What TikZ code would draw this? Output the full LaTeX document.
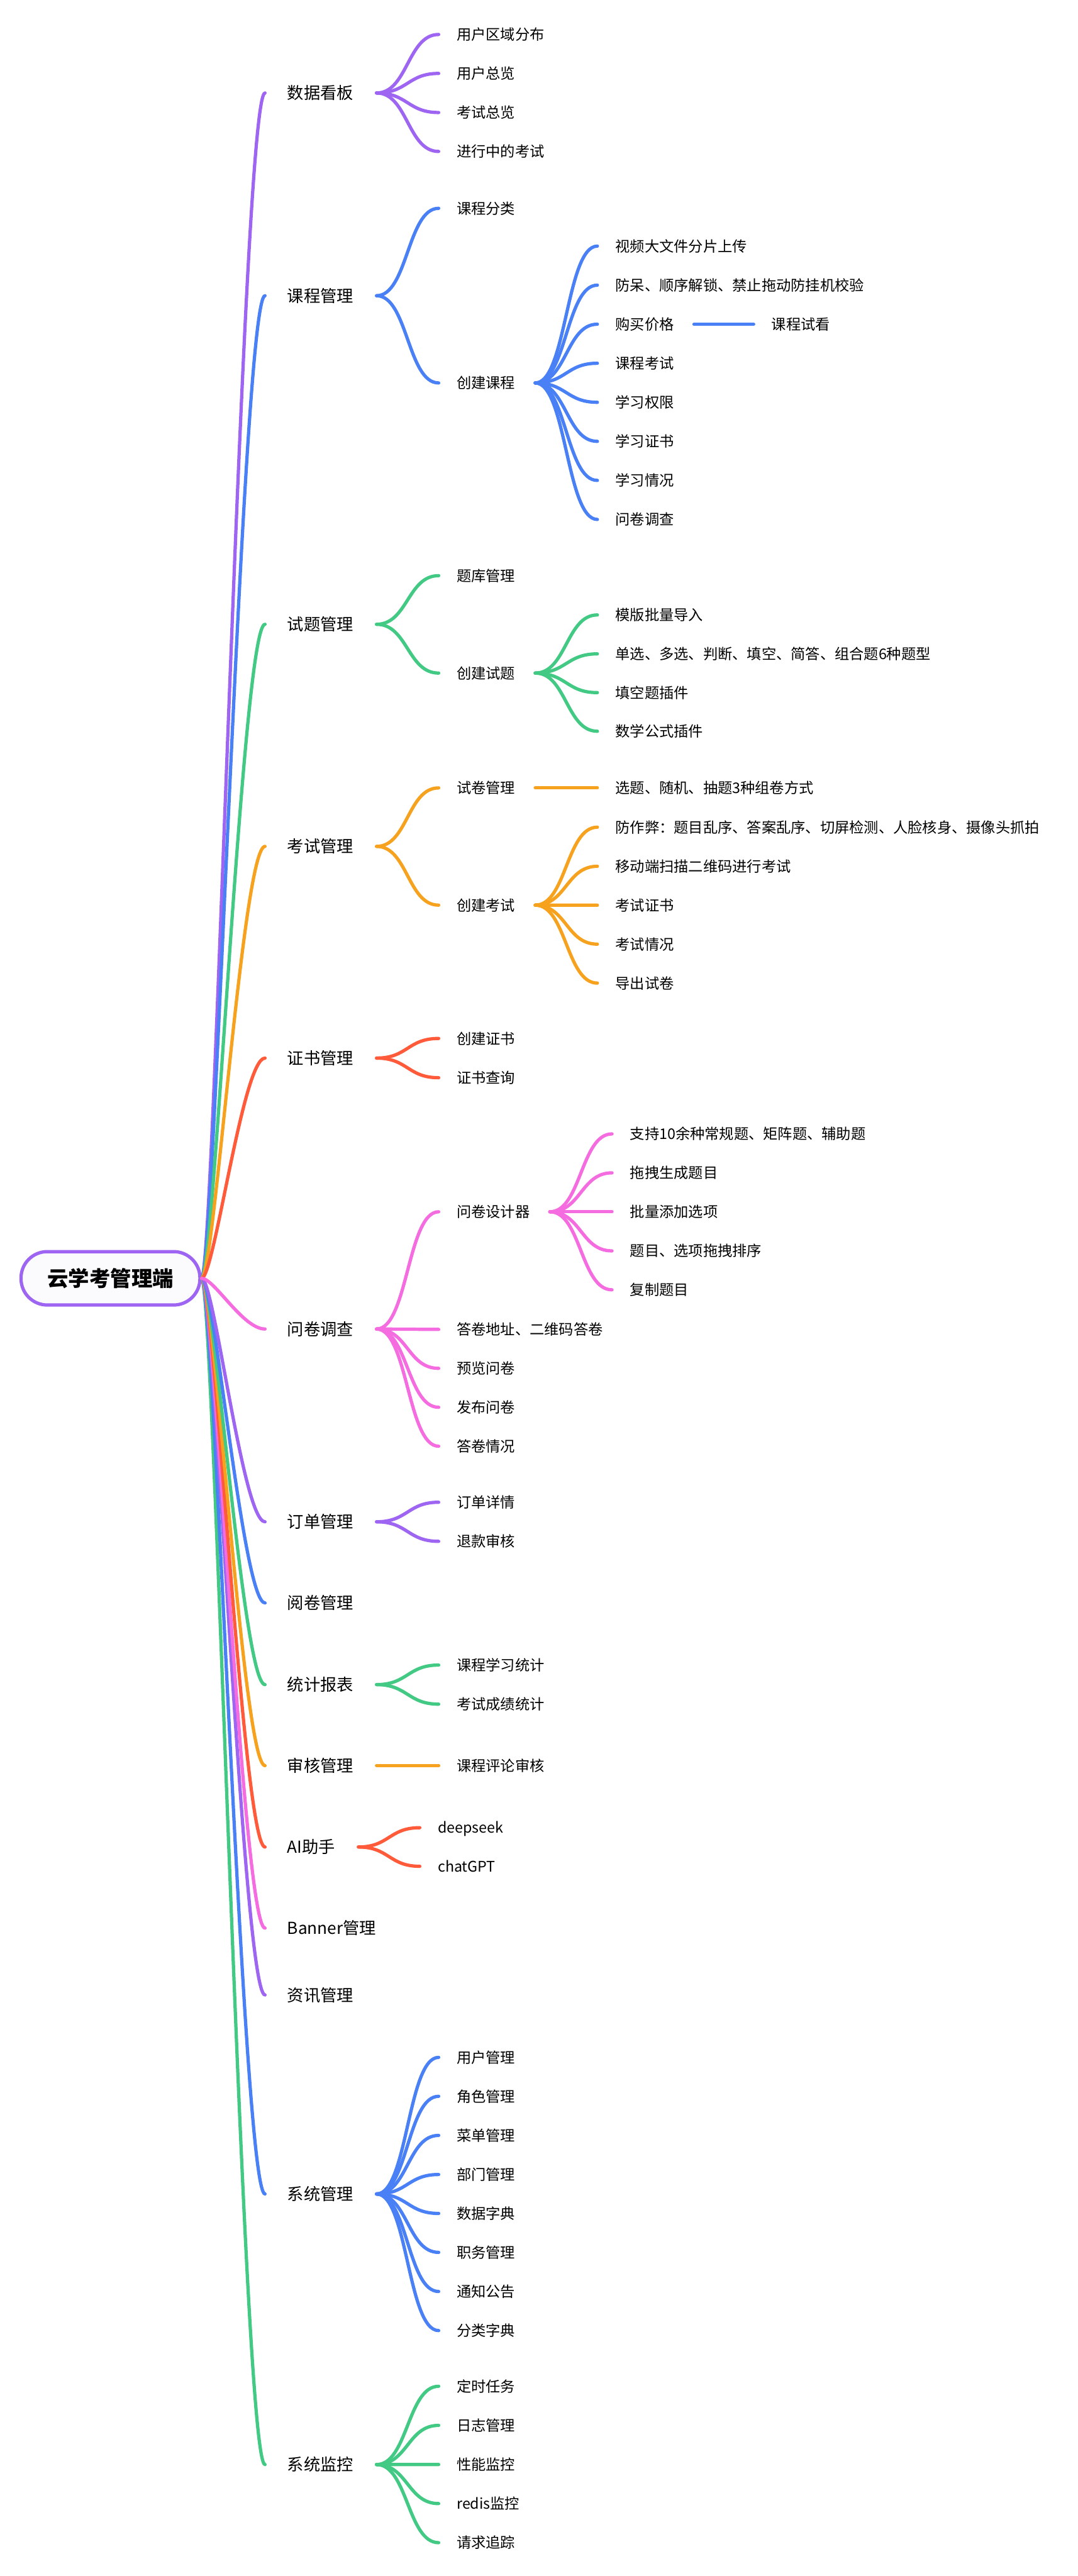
\documentclass[tikz,border=0pt]{standalone}
\usepackage{fontspec}
\setmainfont{Noto Sans CJK SC}
\usetikzlibrary{calc}
\definecolor{cPu}{HTML}{9D65F2}
\definecolor{cBl}{HTML}{4A80F5}
\definecolor{cGr}{HTML}{42C983}
\definecolor{cOr}{HTML}{F7A21E}
\definecolor{cRe}{HTML}{FF5A3A}
\definecolor{cPi}{HTML}{F56BE0}
\definecolor{rootfill}{HTML}{FBFBFD}
\tikzset{
  base/.style={anchor=west, inner sep=0pt, text=black},
  lvA/.style={base, font=\fontsize{10.05}{12}\selectfont, text height=8.85pt, text depth=1.2pt},
  lvB/.style={base, font=\fontsize{8.9}{11}\selectfont, text height=7.83pt, text depth=1.07pt},
  rootbox/.style={draw=cPu, line width=2pt, fill=rootfill, rounded corners=16pt,
    minimum width=108.9pt, minimum height=32.5pt, inner sep=0pt,
    font=\fontsize{12.8}{15}\selectfont\bfseries, text height=11.26pt, text depth=1.54pt},
  link/.style={line width=2pt, line cap=round},
}
% level-1 link from root
\newcommand\rootlink[2]{%
  \draw[link,#1] let \p1=(root.east), \p2=([xshift=-13.4pt]#2.west) in
    (\p1) .. controls ({\x1+0.2*(\x2-\x1)},\y1) and ({\x1+0.65*(\x2-\x1)},\y2) .. (\p2);}
% deeper link: color, parent, child, start gap
\newcommand\sublink[4]{%
  \draw[link,#1] let \p1=([xshift=#4]#2.east), \p2=([xshift=-10.8pt]#3.west) in
    (\p1) .. controls ({0.5*(\x1+\x2)},\y1) and ({0.5*(\x1+\x2)},\y2) .. (\p2);}
\begin{document}
\begin{tikzpicture}[x=1pt,y=-1pt]
\fill[white] (0,0) rectangle (655.8,1568);
\useasboundingbox (0,0) rectangle (655.8,1568);

% root
\node[rootbox] (root) at (67.25,778.1) {云学考管理端};

% level 1
\node[lvA] (n1) at (174.7,56.6) {数据看板};
\node[lvA] (n2) at (174.7,180.0) {课程管理};
\node[lvA] (n3) at (174.7,380.0) {试题管理};
\node[lvA] (n4) at (174.7,515.2) {考试管理};
\node[lvA] (n5) at (174.7,644.05) {证书管理};
\node[lvA] (n6) at (174.7,808.95) {问卷调查};
\node[lvA] (n7) at (174.7,926.3) {订单管理};
\node[lvA] (n8) at (174.7,975.7) {阅卷管理};
\node[lvA] (n9) at (174.7,1025.4) {统计报表};
\node[lvA] (n10) at (174.7,1074.7) {审核管理};
\node[lvA] (n11) at (174.7,1124.25) {AI助手};
\node[lvA] (n12) at (174.7,1173.6) {Banner管理};
\node[lvA] (n13) at (174.7,1214.3) {资讯管理};
\node[lvA] (n14) at (174.7,1335.45) {系统管理};
\node[lvA] (n15) at (174.7,1500.15) {系统监控};

% level 2
\node[lvB] (n1a) at (277.8,21.0) {用户区域分布};
\node[lvB] (n1b) at (277.8,44.7) {用户总览};
\node[lvB] (n1c) at (277.8,68.5) {考试总览};
\node[lvB] (n1d) at (277.8,92.2) {进行中的考试};

\node[lvB] (n2a) at (277.8,126.8) {课程分类};
\node[lvB] (n2b) at (277.8,233.1) {创建课程};
\node[lvB] (n2b1) at (374.4,149.8) {视频大文件分片上传};
\node[lvB] (n2b2) at (374.4,173.57) {防呆、顺序解锁、禁止拖动防挂机校验};
\node[lvB] (n2b3) at (374.4,197.34) {购买价格};
\node[lvB] (n2b3a) at (469.5,197.34) {课程试看};
\node[lvB] (n2b4) at (374.4,221.11) {课程考试};
\node[lvB] (n2b5) at (374.4,244.88) {学习权限};
\node[lvB] (n2b6) at (374.4,268.65) {学习证书};
\node[lvB] (n2b7) at (374.4,292.42) {学习情况};
\node[lvB] (n2b8) at (374.4,316.19) {问卷调查};

\node[lvB] (n3a) at (277.8,350.4) {题库管理};
\node[lvB] (n3b) at (277.8,409.7) {创建试题};
\node[lvB] (n3b1) at (374.4,374.3) {模版批量导入};
\node[lvB] (n3b2) at (374.4,398.0) {单选、多选、判断、填空、简答、组合题6种题型};
\node[lvB] (n3b3) at (374.4,421.6) {填空题插件};
\node[lvB] (n3b4) at (374.4,445.1) {数学公式插件};

\node[lvB] (n4a) at (277.8,479.6) {试卷管理};
\node[lvB] (n4a1) at (374.4,479.6) {选题、随机、抽题3种组卷方式};
\node[lvB] (n4b) at (277.8,550.95) {创建考试};
\node[lvB] (n4b1) at (374.4,503.5) {防作弊：题目乱序、答案乱序、切屏检测、人脸核身、摄像头抓拍};
\node[lvB] (n4b2) at (374.4,527.3) {移动端扫描二维码进行考试};
\node[lvB] (n4b3) at (374.4,551.0) {考试证书};
\node[lvB] (n4b4) at (374.4,574.7) {考试情况};
\node[lvB] (n4b5) at (374.4,598.4) {导出试卷};

\node[lvB] (n5a) at (277.8,632.1) {创建证书};
\node[lvB] (n5b) at (277.8,656.0) {证书查询};

\node[lvB] (n6a) at (277.8,737.6) {问卷设计器};
\node[lvB] (n6a1) at (383.3,690.2) {支持10余种常规题、矩阵题、辅助题};
\node[lvB] (n6a2) at (383.3,713.9) {拖拽生成题目};
\node[lvB] (n6a3) at (383.3,737.6) {批量添加选项};
\node[lvB] (n6a4) at (383.3,761.4) {题目、选项拖拽排序};
\node[lvB] (n6a5) at (383.3,785.1) {复制题目};
\node[lvB] (n6b) at (277.8,809.2) {答卷地址、二维码答卷};
\node[lvB] (n6c) at (277.8,832.9) {预览问卷};
\node[lvB] (n6d) at (277.8,856.6) {发布问卷};
\node[lvB] (n6e) at (277.8,880.3) {答卷情况};

\node[lvB] (n7a) at (277.8,914.4) {订单详情};
\node[lvB] (n7b) at (277.8,938.2) {退款审核};

\node[lvB] (n9a) at (277.8,1013.5) {课程学习统计};
\node[lvB] (n9b) at (277.8,1037.3) {考试成绩统计};

\node[lvB] (n10a) at (277.8,1074.7) {课程评论审核};

\node[lvB] (n11a) at (266.3,1112.5) {deepseek};
\node[lvB] (n11b) at (266.3,1136.0) {chatGPT};

\node[lvB] (n14a) at (277.8,1252.3) {用户管理};
\node[lvB] (n14b) at (277.8,1276.0) {角色管理};
\node[lvB] (n14c) at (277.8,1299.8) {菜单管理};
\node[lvB] (n14d) at (277.8,1323.6) {部门管理};
\node[lvB] (n14e) at (277.8,1347.3) {数据字典};
\node[lvB] (n14f) at (277.8,1371.0) {职务管理};
\node[lvB] (n14g) at (277.8,1394.8) {通知公告};
\node[lvB] (n14h) at (277.8,1418.6) {分类字典};

\node[lvB] (n15a) at (277.8,1452.5) {定时任务};
\node[lvB] (n15b) at (277.8,1476.3) {日志管理};
\node[lvB] (n15c) at (277.8,1500.1) {性能监控};
\node[lvB] (n15d) at (277.8,1523.9) {redis监控};
\node[lvB] (n15e) at (277.8,1547.7) {请求追踪};

% root links
\rootlink{cGr}{n15}
\rootlink{cBl}{n14}
\rootlink{cPu}{n13}
\rootlink{cPi}{n12}
\rootlink{cRe}{n11}
\rootlink{cOr}{n10}
\rootlink{cGr}{n9}
\rootlink{cBl}{n8}
\rootlink{cPu}{n7}
\rootlink{cPu}{n1}
\rootlink{cBl}{n2}
\rootlink{cGr}{n3}
\rootlink{cOr}{n4}
\rootlink{cRe}{n5}
\rootlink{cPi}{n6}

% sub links
\foreach \c in {n1a,n1b,n1c,n1d} {\sublink{cPu}{n1}{\c}{13.9pt}}
\foreach \c in {n2a,n2b} {\sublink{cBl}{n2}{\c}{13.9pt}}
\foreach \c in {n2b1,n2b2,n2b3,n2b4,n2b5,n2b6,n2b7,n2b8} {\sublink{cBl}{n2b}{\c}{12pt}}
\sublink{cBl}{n2b3}{n2b3a}{12pt}
\foreach \c in {n3a,n3b} {\sublink{cGr}{n3}{\c}{13.9pt}}
\foreach \c in {n3b1,n3b2,n3b3,n3b4} {\sublink{cGr}{n3b}{\c}{12pt}}
\foreach \c in {n4a,n4b} {\sublink{cOr}{n4}{\c}{13.9pt}}
\sublink{cOr}{n4a}{n4a1}{12pt}
\foreach \c in {n4b1,n4b2,n4b3,n4b4,n4b5} {\sublink{cOr}{n4b}{\c}{12pt}}
\foreach \c in {n5a,n5b} {\sublink{cRe}{n5}{\c}{13.9pt}}
\foreach \c in {n6a,n6b,n6c,n6d,n6e} {\sublink{cPi}{n6}{\c}{13.9pt}}
\foreach \c in {n6a1,n6a2,n6a3,n6a4,n6a5} {\sublink{cPi}{n6a}{\c}{12pt}}
\foreach \c in {n7a,n7b} {\sublink{cPu}{n7}{\c}{13.9pt}}
\foreach \c in {n9a,n9b} {\sublink{cGr}{n9}{\c}{13.9pt}}
\sublink{cOr}{n10}{n10a}{13.9pt}
\foreach \c in {n11a,n11b} {\sublink{cRe}{n11}{\c}{13.9pt}}
\foreach \c in {n14a,n14b,n14c,n14d,n14e,n14f,n14g,n14h} {\sublink{cBl}{n14}{\c}{13.9pt}}
\foreach \c in {n15a,n15b,n15c,n15d,n15e} {\sublink{cGr}{n15}{\c}{13.9pt}}
\end{tikzpicture}
\end{document}
